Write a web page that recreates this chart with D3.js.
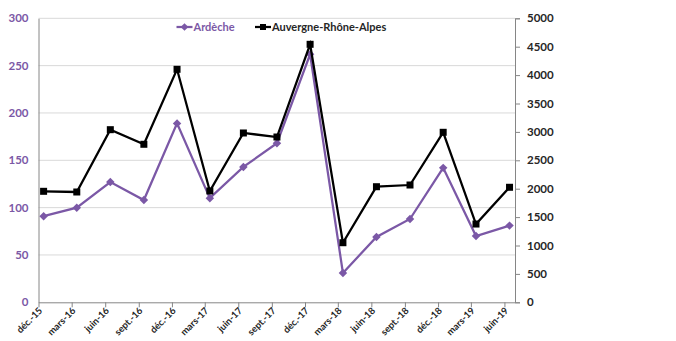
<!DOCTYPE html>
<html>
<head>
<meta charset="utf-8">
<script src="https://cdn.jsdelivr.net/npm/d3@7"></script>
<style>
  html, body { margin: 0; padding: 0; background: #fff; }
  svg text { font-family: Lato, "Open Sans", "Liberation Sans", sans-serif; font-weight: bold; }
</style>
</head>
<body>
<svg id="chart" width="676" height="341"></svg>
<script>
// Quarterly dates (mid-month)
const dates = ["2015-12-15","2016-03-15","2016-06-15","2016-09-15","2016-12-15",
  "2017-03-15","2017-06-15","2017-09-15","2017-12-15","2018-03-15",
  "2018-06-15","2018-09-15","2018-12-15","2019-03-15","2019-06-15"];
const tickMonths = ["2015-12-01","2016-03-01","2016-06-01","2016-09-01","2016-12-01",
  "2017-03-01","2017-06-01","2017-09-01","2017-12-01","2018-03-01",
  "2018-06-01","2018-09-01","2018-12-01","2019-03-01","2019-06-01"];
const tickLabels = ["déc.-15","mars-16","juin-16","sept.-16","déc.-16","mars-17","juin-17",
  "sept.-17","déc.-17","mars-18","juin-18","sept.-18","déc.-18","mars-19","juin-19"];
const ardeche = [91, 100, 127, 108, 189, 110, 143, 168, 262, 31, 69, 88, 142, 70, 81];
const auvergne = [1954, 1942, 3039, 2782, 4102, 1960, 2981, 2910, 4542, 1049, 2035, 2065, 2993, 1378, 2025];
const leftTicks = [0, 50, 100, 150, 200, 250, 300];
const rightTicks = [0, 500, 1000, 1500, 2000, 2500, 3000, 3500, 4000, 4500, 5000];

const purple = "#7b58a6";
const parse = d3.timeParse("%Y-%m-%d");
const svg = d3.select("#chart");
const m = { left: 38.5, right: 515, top: 18.3, bottom: 302.3 };

const x = d3.scaleTime()
  .domain([parse("2015-12-01"), parse("2019-06-30")])
  .range([m.left, m.right]);
const yL = d3.scaleLinear().domain([0, 300]).range([m.bottom, m.top]);
const yR = d3.scaleLinear().domain([0, 5000]).range([m.bottom, m.top]);

// Gridlines
svg.append("g").selectAll("line").data(leftTicks.slice(1)).join("line")
  .attr("x1", m.left).attr("x2", m.right)
  .attr("y1", d => yL(d)).attr("y2", d => yL(d))
  .attr("stroke", "#d9d9d9").attr("stroke-width", 1);

// Left axis
const gL = svg.append("g").attr("transform", `translate(${m.left},0)`)
  .call(d3.axisLeft(yL).tickValues(leftTicks).tickSize(0).tickPadding(10));
gL.select(".domain").attr("stroke", "#868686");
gL.selectAll("text").attr("fill", purple).attr("font-size", 11.5);

// Right axis
const gR = svg.append("g").attr("transform", `translate(${m.right},0)`)
  .call(d3.axisRight(yR).tickValues(rightTicks).tickFormat(d3.format("d")).tickSize(5).tickPadding(7));
gR.select(".domain").attr("stroke", "#868686");
gR.selectAll("line").attr("stroke", "#868686");
gR.selectAll("text").attr("fill", "#262626").attr("font-size", 11.5);

// Bottom axis
const gB = svg.append("g").attr("transform", `translate(0,${m.bottom})`)
  .call(d3.axisBottom(x).tickValues(tickMonths.map(parse))
    .tickFormat((d, i) => tickLabels[i]).tickSize(5).tickSizeOuter(0));
gB.select(".domain").attr("stroke", "#868686");
gB.selectAll("line").attr("stroke", "#868686");
gB.selectAll("text")
  .attr("fill", "#262626").attr("font-size", 9.5)
  .attr("text-anchor", "end")
  .attr("dy", null).attr("y", 0)
  .attr("transform", "translate(4,9) rotate(-45)");

// Diamond marker: a square turned by 45 degrees
const diamond = d3.symbol(d3.symbolSquare, 36);

// Series lines
const lineL = d3.line().x((d, i) => x(parse(dates[i]))).y(d => yL(d));
const lineR = d3.line().x((d, i) => x(parse(dates[i]))).y(d => yR(d));

svg.append("path").datum(ardeche).attr("d", lineL)
  .attr("fill", "none").attr("stroke", purple).attr("stroke-width", 2.25);
svg.append("g").selectAll("path").data(ardeche).join("path")
  .attr("d", diamond)
  .attr("transform", (d, i) => `translate(${x(parse(dates[i]))},${yL(d)}) rotate(45)`)
  .attr("fill", purple);

svg.append("path").datum(auvergne).attr("d", lineR)
  .attr("fill", "none").attr("stroke", "#000").attr("stroke-width", 2.25);
svg.append("g").selectAll("rect").data(auvergne).join("rect")
  .attr("x", (d, i) => x(parse(dates[i])) - 3.5)
  .attr("y", d => yR(d) - 3.5)
  .attr("width", 7).attr("height", 7)
  .attr("fill", "#000");

// Legend
const legend = [
  { name: "Ardèche", color: purple, x0: 176.5, marker: "diamond", textColor: purple },
  { name: "Auvergne-Rhône-Alpes", color: "#000", x0: 255, marker: "square", textColor: "#262626" }
];
const ly = 27;
legend.forEach(l => {
  svg.append("line").attr("x1", l.x0).attr("x2", l.x0 + 16).attr("y1", ly).attr("y2", ly)
    .attr("stroke", l.color).attr("stroke-width", 2.25);
  if (l.marker === "diamond") {
    svg.append("path").attr("d", d3.symbol(d3.symbolSquare, 30))
      .attr("transform", `translate(${l.x0 + 8},${ly}) rotate(45)`).attr("fill", l.color);
  } else {
    svg.append("rect").attr("x", l.x0 + 5).attr("y", ly - 3).attr("width", 6).attr("height", 6)
      .attr("fill", l.color);
  }
  svg.append("text").attr("x", l.x0 + 17).attr("y", ly).attr("dy", "0.35em")
    .attr("font-size", 11).attr("fill", l.textColor).text(l.name);
});
</script>
</body>
</html>
